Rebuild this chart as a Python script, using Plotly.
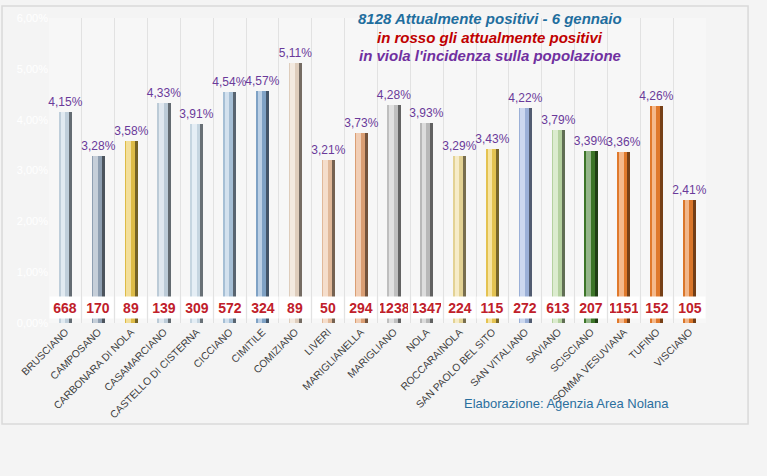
import plotly.graph_objects as go

comuni = ["BRUSCIANO", "CAMPOSANO", "CARBONARA DI NOLA", "CASAMARCIANO",
          "CASTELLO DI CISTERNA", "CICCIANO", "CIMITILE", "COMIZIANO", "LIVERI",
          "MARIGLIANELLA", "MARIGLIANO", "NOLA", "ROCCARAINOLA",
          "SAN PAOLO BEL SITO", "SAN VITALIANO", "SAVIANO", "SCISCIANO",
          "SOMMA VESUVIANA", "TUFINO", "VISCIANO"]
incidenza = [4.15, 3.28, 3.58, 4.33, 3.91, 4.54, 4.57, 5.11, 3.21, 3.73,
             4.28, 3.93, 3.29, 3.43, 4.22, 3.79, 3.39, 3.36, 4.26, 2.41]
positivi = [668, 170, 89, 139, 309, 572, 324, 89, 50, 294,
            1238, 1347, 224, 115, 272, 613, 207, 1151, 152, 105]

bar_colors = ["#C9D9E6", "#97A7BA", "#E9C54A", "#C6D6E2", "#CFE0EC", "#AFC9E0",
              "#86AACF", "#EAD8C6", "#EDC3A2", "#E6A679", "#C9C9C9", "#C2C2C2",
              "#EFDD9C", "#F0CD55", "#A3B9E2", "#BFDCA8", "#3F7B2A", "#EC7F2E",
              "#EC7F2E", "#E67C2C"]


def mix(hexc, target, t):
    h = hexc.lstrip("#")
    r, g, b = int(h[0:2], 16), int(h[2:4], 16), int(h[4:6], 16)
    tr, tg, tb = target
    r = round(r + (tr - r) * t)
    g = round(g + (tg - g) * t)
    b = round(b + (tb - b) * t)
    return f"rgb({r},{g},{b})"


dark = [mix(c, (0, 0, 0), 0.5) for c in bar_colors]
mid = [mix(c, (0, 0, 0), 0.05) for c in bar_colors]
light = [mix(c, (255, 255, 255), 0.45) for c in bar_colors]

fig = go.Figure()
# cylinder body: dark edge, main body, highlight
fig.add_trace(go.Bar(x=comuni, y=incidenza, width=0.40, offset=-0.20,
                     marker=dict(color=dark, line=dict(width=0)),
                     texttemplate="%{y:.2f}%", textposition="outside",
                     constraintext="none",
                     textfont=dict(color="#6A3A9A", size=12, family="Liberation Sans"),
                     cliponaxis=False, hoverinfo="skip"))
fig.add_trace(go.Bar(x=comuni, y=incidenza, width=0.31, offset=-0.20,
                     marker=dict(color=mid, line=dict(width=0)), hoverinfo="skip"))
fig.add_trace(go.Bar(x=comuni, y=incidenza, width=0.14, offset=-0.15,
                     marker=dict(color=light, line=dict(width=0)), hoverinfo="skip"))

annotations = []
for c, p in zip(comuni, positivi):
    annotations.append(dict(x=c, y=0, xref="x", yref="y", yanchor="bottom", yshift=4,
                            text=f"<b>{p}</b>", showarrow=False, bgcolor="white",
                            width=28, height=19,
                            font=dict(color="#C0202A", size=14, family="Liberation Sans")))

titles = [("8128 Attualmente positivi - 6 gennaio", "#1F6E9E", 1.0),
          ("in rosso gli attualmente positivi", "#C00000", 0.935),
          ("in viola l'incidenza sulla popolazione", "#7030A0", 0.877)]
for t, col, yy in titles:
    annotations.append(dict(x=0.671, y=yy, xref="paper", yref="paper",
                            text=f"<b><i>{t}</i></b>", showarrow=False,
                            xanchor="center", yanchor="middle",
                            font=dict(color=col, size=15, family="Liberation Sans")))

annotations.append(dict(x=0.788, y=-0.263, xref="paper", yref="paper",
                        text="Elaborazione: Agenzia Area Nolana", showarrow=False,
                        xanchor="center", yanchor="middle",
                        font=dict(color="#2A6F9E", size=13, family="Liberation Sans")))

shapes = [dict(type="rect", xref="paper", yref="paper", x0=-0.0715, x1=1.064,
               y0=-0.331, y1=1.039, line=dict(color="#D9D9D9", width=1.5),
               fillcolor="rgba(0,0,0,0)", layer="below")]

fig.update_layout(
    width=767, height=476,
    margin=dict(l=49, r=61, t=15, b=153),
    paper_bgcolor="#F4F4F4", plot_bgcolor="#F7F7F7",
    barmode="overlay", bargap=0, showlegend=False,
    separators=",.",
    font=dict(family="Liberation Sans"),
    annotations=annotations, shapes=shapes,
    xaxis=dict(type="category", tickangle=-45, tickson="boundaries",
               showgrid=True, gridcolor="#E2E2E2", gridwidth=1,
               ticks="", showline=False, zeroline=False,
               tickfont=dict(size=10.3, color="#404040", family="Liberation Sans")),
    yaxis=dict(range=[0, 6], dtick=1, tickformat=".2f", ticksuffix="%",
               showgrid=False, zeroline=False, showline=False,
               tickfont=dict(size=11, color="white")),
    yaxis2=dict(range=[0, 1000], dtick=100, overlaying="y", side="right",
                showgrid=False, zeroline=False, showline=True, linecolor="#DADADA",
                tickfont=dict(size=11, color="white")),
)

fig.write_html("out.html")
